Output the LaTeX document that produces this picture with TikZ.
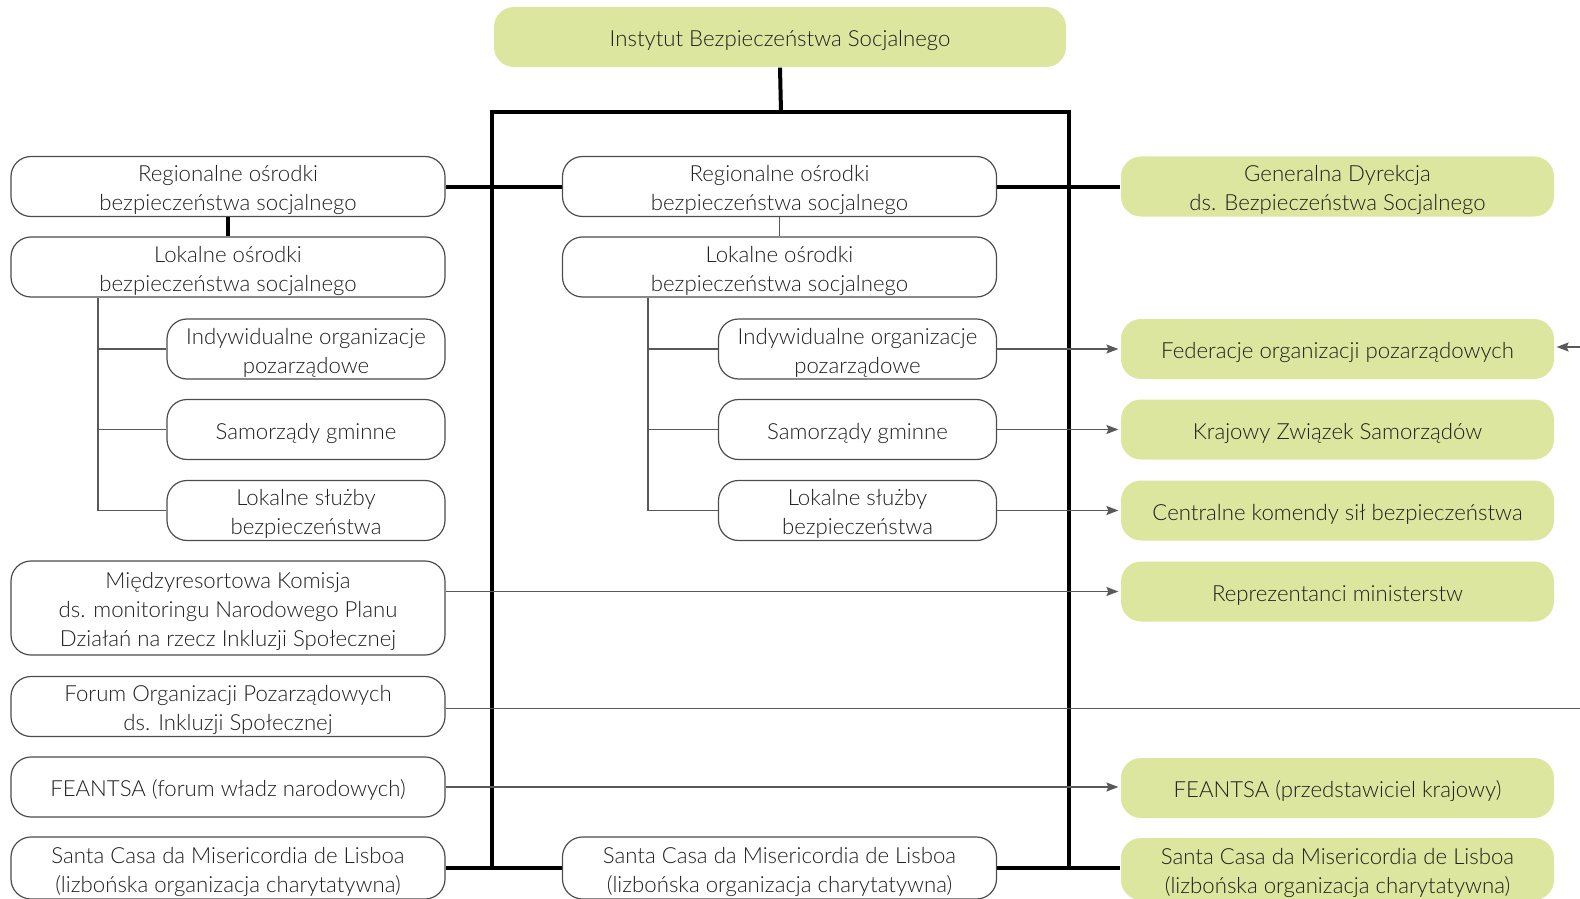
\documentclass[tikz,border=0pt]{standalone}
\usepackage{fontspec}
\setmainfont{Lato}[UprightFont=* Light]
\usetikzlibrary{arrows.meta}
\definecolor{grn}{RGB}{221,230,158}
\definecolor{txt}{RGB}{30,30,30}
\begin{document}
\begin{tikzpicture}[x=0.5pt,y=-0.5pt,
  box/.style={draw=black!70, line width=0.6pt, rounded corners=10pt, align=center, inner sep=0pt,
    minimum height=30pt, text=txt, font=\fontsize{11.1}{14.5}\selectfont,
    text height=12.5pt, text depth=3pt},
  two/.style={text height=27pt},
  three/.style={text height=41.5pt},
  wide/.style={minimum width=217pt},
  narrow/.style={minimum width=139pt},
  gbox/.style={box, fill=grn, draw=none, minimum width=216.5pt},
  thk/.style={line width=2pt, black},
  thn/.style={line width=0.7pt, black!65},
  arr/.style={thn, -{Stealth[length=6pt,width=4.5pt,inset=1pt]}, shorten >=1pt}
]
\useasboundingbox (0,0) rectangle (1580,899);
% top
\node[gbox, minimum width=286pt] (top) at (780,37) {Instytut Bezpieczeństwa Socjalnego};
% left column
\node[box, wide, two] (lreg) at (228,186.5) {Regionalne ośrodki\\bezpieczeństwa socjalnego};
\node[box, wide, two] (llok) at (228,267) {Lokalne ośrodki\\bezpieczeństwa socjalnego};
\node[box, narrow, two] (lind) at (306,349) {Indywidualne organizacje\\pozarządowe};
\node[box, narrow] (lsam) at (306,429.5) {Samorządy gminne};
\node[box, narrow, two] (lsl) at (306,510.5) {Lokalne służby\\bezpieczeństwa};
\node[box, wide, three, minimum height=47pt] (lmie) at (228,608) {Międzyresortowa Komisja\\ds. monitoringu Narodowego Planu\\Działań na rzecz Inkluzji Społecznej};
\node[box, wide, two] (lfor) at (228,706.5) {Forum Organizacji Pozarządowych\\ds. Inkluzji Społecznej};
\node[box, wide] (lfea) at (228,787) {FEANTSA (forum władz narodowych)};
\node[box, wide, two, minimum height=31pt] (lsan) at (228,868) {Santa Casa da Misericordia de Lisboa\\(lizbońska organizacja charytatywna)};
% middle column
\node[box, wide, two] (mreg) at (779.5,186.5) {Regionalne ośrodki\\bezpieczeństwa socjalnego};
\node[box, wide, two] (mlok) at (779.5,267) {Lokalne ośrodki\\bezpieczeństwa socjalnego};
\node[box, narrow, two] (mind) at (857.5,349) {Indywidualne organizacje\\pozarządowe};
\node[box, narrow] (msam) at (857.5,429.5) {Samorządy gminne};
\node[box, narrow, two] (msl) at (857.5,510.5) {Lokalne służby\\bezpieczeństwa};
\node[box, wide, two, minimum height=31pt] (msan) at (779.5,868) {Santa Casa da Misericordia de Lisboa\\(lizbońska organizacja charytatywna)};
% right column
\node[gbox, two] (rgen) at (1337.5,186.5) {Generalna Dyrekcja\\ds. Bezpieczeństwa Socjalnego};
\node[gbox] (rfed) at (1337.5,349) {Federacje organizacji pozarządowych};
\node[gbox] (rkra) at (1337.5,429.5) {Krajowy Związek Samorządów};
\node[gbox] (rcen) at (1337.5,510.5) {Centralne komendy sił bezpieczeństwa};
\node[gbox] (rrep) at (1337.5,591.5) {Reprezentanci ministerstw};
\node[gbox] (rfea) at (1337.5,788) {FEANTSA (przedstawiciel krajowy)};
\node[gbox, two, minimum height=31pt] (rsan) at (1337.5,869) {Santa Casa da Misericordia de Lisboa\\(lizbońska organizacja charytatywna)};
% frame coordinates
\coordinate (tm) at (781,112);
\coordinate (tl) at (492,112);
\coordinate (tr) at (1069,112);
\coordinate (bl) at (492,868);
\coordinate (br) at (1069,868);
\coordinate (lt) at (98,0);
\coordinate (mt) at (648,0);
\coordinate (fe) at (1580,708.5);
\coordinate (fr) at (1580,347);
% thick connectors
\draw[thk] (top.south) -- (tm);
\draw[thk] (bl) -- (tl) -- (tr) -- (br);
\draw[thk] (lreg.east) -- (mreg.west);
\draw[thk] (mreg.east) -- (rgen.west);
\draw[thk] (lsan.east) -- (msan.west);
\draw[thk] (msan.east) -- (msan.east -| rsan.west);
\draw[thk] (lreg.south) -- (llok.north);
% thin connectors
\draw[thn] (mreg.south) -- (mlok.north);
\draw[thn] (llok.south -| lt) -- (lsl.west -| lt) -- (lsl.west);
\draw[thn] (lind.west -| lt) -- (lind.west);
\draw[thn] (lsam.west -| lt) -- (lsam.west);
\draw[thn] (mlok.south -| mt) -- (msl.west -| mt) -- (msl.west);
\draw[thn] (mind.west -| mt) -- (mind.west);
\draw[thn] (msam.west -| mt) -- (msam.west);
\draw[arr] (mind.east) -- (rfed.west);
\draw[arr] (msam.east) -- (rkra.west);
\draw[arr] (msl.east) -- (rcen.west);
\draw[arr] (lmie.east |- rrep.west) -- (rrep.west);
\draw[thn] (lfor.east |- fe) -- (fe);
\draw[arr] (fr) -- (fr -| rfed.east);
\draw[arr] (lfea.east) -- (lfea.east -| rfea.west);
\end{tikzpicture}
\end{document}
